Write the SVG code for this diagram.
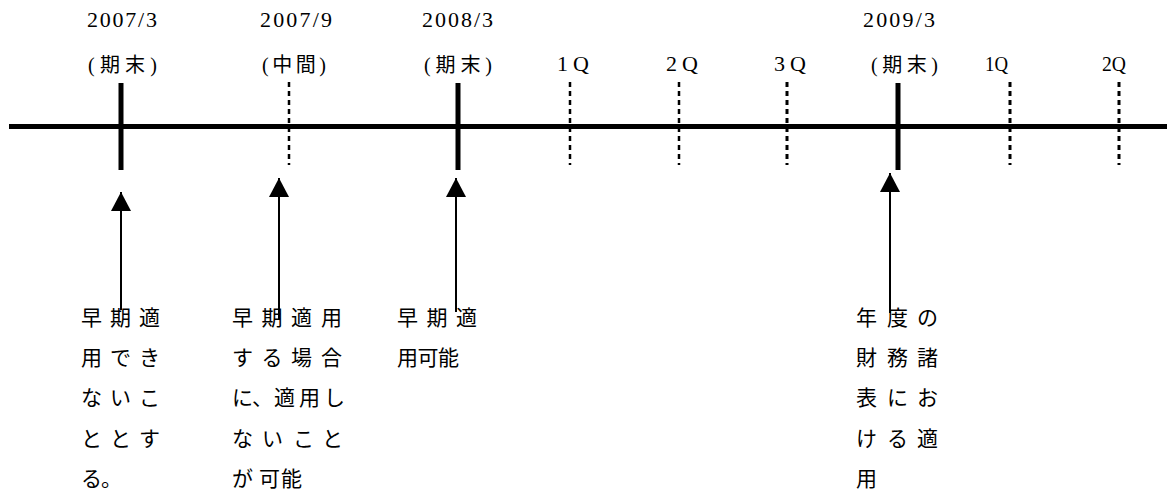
<svg xmlns="http://www.w3.org/2000/svg" width="1167" height="495" viewBox="0 0 1167 495">
<style>
  .bg { fill: #ffffff; }
  .axis { stroke: #000; stroke-width: 5; fill: none; }
  .tick { stroke: #000; stroke-width: 5; fill: none; }
  .dtick { stroke: #000; stroke-width: 2.5; stroke-dasharray: 5 4; fill: none; }
  .dtick2 { stroke: #000; stroke-width: 3; stroke-dasharray: 5 4; fill: none; }
  .date { font-family: "Liberation Serif", "Noto Sans CJK JP", serif; font-size: 22px; fill: #000; }
  .lab { font-family: "Liberation Serif", "Noto Sans CJK JP", serif; font-size: 20px; fill: #000; }
  .q { font-family: "Liberation Serif", "Noto Sans CJK JP", serif; font-size: 22px; fill: #000; }
  .body { font-family: "Noto Sans CJK JP", sans-serif; font-size: 21px; fill: #000; }
  .arrow { stroke: #000; stroke-width: 2; fill: none; marker-end: url(#ah); }
</style>
<defs>
  <marker id="ah" markerUnits="userSpaceOnUse" markerWidth="20" markerHeight="20" viewBox="0 0 20 20" refX="19" refY="10" orient="auto">
    <path d="M0,0 L19,10 L0,20 Z" fill="#000"/>
  </marker>
</defs>
<rect class="bg" x="0" y="0" width="1167" height="495"/>

<g id="timeline">
  <line class="axis" x1="9" y1="126.5" x2="1167" y2="126.5"/>
</g>

<g id="p-2007-3">
  <line class="tick" x1="121" y1="83" x2="121" y2="170"/>
  <text class="date" x="87" y="27" textLength="70" lengthAdjust="spacing">2007/3</text>
  <text class="lab" x="88" y="72" textLength="69" lengthAdjust="spacing">(期末)</text>
</g>
<g id="p-2007-9">
  <line class="dtick" x1="289" y1="82" x2="289" y2="165"/>
  <text class="date" x="260" y="27" textLength="72" lengthAdjust="spacing">2007/9</text>
  <text class="lab" x="262" y="72" textLength="64" lengthAdjust="spacing">(中間)</text>
</g>
<g id="p-2008-3">
  <line class="tick" x1="458" y1="83" x2="458" y2="170"/>
  <text class="date" x="422" y="27" textLength="71" lengthAdjust="spacing">2008/3</text>
  <text class="lab" x="424" y="72" textLength="68" lengthAdjust="spacing">(期末)</text>
</g>
<g id="p-1q-a">
  <line class="dtick" x1="570" y1="82" x2="570" y2="165"/>
  <text class="q" x="557" y="71" textLength="32" lengthAdjust="spacing">1 Q</text>
</g>
<g id="p-2q-a">
  <line class="dtick" x1="679" y1="82" x2="679" y2="165"/>
  <text class="q" x="666" y="71" textLength="32" lengthAdjust="spacing">2 Q</text>
</g>
<g id="p-3q-a">
  <line class="dtick2" x1="787" y1="82" x2="787" y2="165"/>
  <text class="q" x="774" y="71" textLength="32" lengthAdjust="spacing">3 Q</text>
</g>
<g id="p-2009-3">
  <line class="tick" x1="898" y1="83" x2="898" y2="170"/>
  <text class="date" x="863" y="27" textLength="72" lengthAdjust="spacing">2009/3</text>
  <text class="lab" x="871" y="72" textLength="67" lengthAdjust="spacing">(期末)</text>
</g>
<g id="p-1q-b">
  <line class="dtick2" x1="1010" y1="82" x2="1010" y2="165"/>
  <text class="q" x="985" y="71" textLength="23" lengthAdjust="spacingAndGlyphs">1Q</text>
</g>
<g id="p-2q-b">
  <line class="dtick2" x1="1119" y1="82" x2="1119" y2="165"/>
  <text class="q" x="1102" y="71" textLength="24" lengthAdjust="spacingAndGlyphs">2Q</text>
</g>

<g id="connectors">
  <line class="arrow" x1="121" y1="310" x2="121" y2="192"/>
  <line class="arrow" x1="279" y1="320" x2="279" y2="178"/>
  <line class="arrow" x1="456" y1="312" x2="456" y2="178"/>
  <line class="arrow" x1="890" y1="313" x2="890" y2="173"/>
</g>

<g id="note-1">
  <text class="body" x="81 110 139" y="325">早期適</text>
  <text class="body" x="81 110 139" y="365">用でき</text>
  <text class="body" x="81 110 139" y="405">ないこ</text>
  <text class="body" x="81 110 139" y="446">ととす</text>
  <text class="body" x="81 101" y="486">る。</text>
</g>
<g id="note-2">
  <text class="body" x="232 261.5 291 321" y="325">早期適用</text>
  <text class="body" x="232 261.5 291 321" y="365">する場合</text>
  <text class="body" x="232 252 274 299 324" y="405">に、適用し</text>
  <text class="body" x="232 262 293 322" y="446">ないこと</text>
  <text class="body" x="232 259 281" y="486">が可能</text>
</g>
<g id="note-3">
  <text class="body" x="397 426.5 456" y="325">早期適</text>
  <text class="body" x="397 417.5 438" y="365">用可能</text>
</g>
<g id="note-4">
  <text class="body" x="856 887 917" y="325">年度の</text>
  <text class="body" x="856 887 917" y="365">財務諸</text>
  <text class="body" x="856 887 917" y="405">表にお</text>
  <text class="body" x="856 887 917" y="446">ける適</text>
  <text class="body" x="856" y="486">用</text>
</g>
</svg>
